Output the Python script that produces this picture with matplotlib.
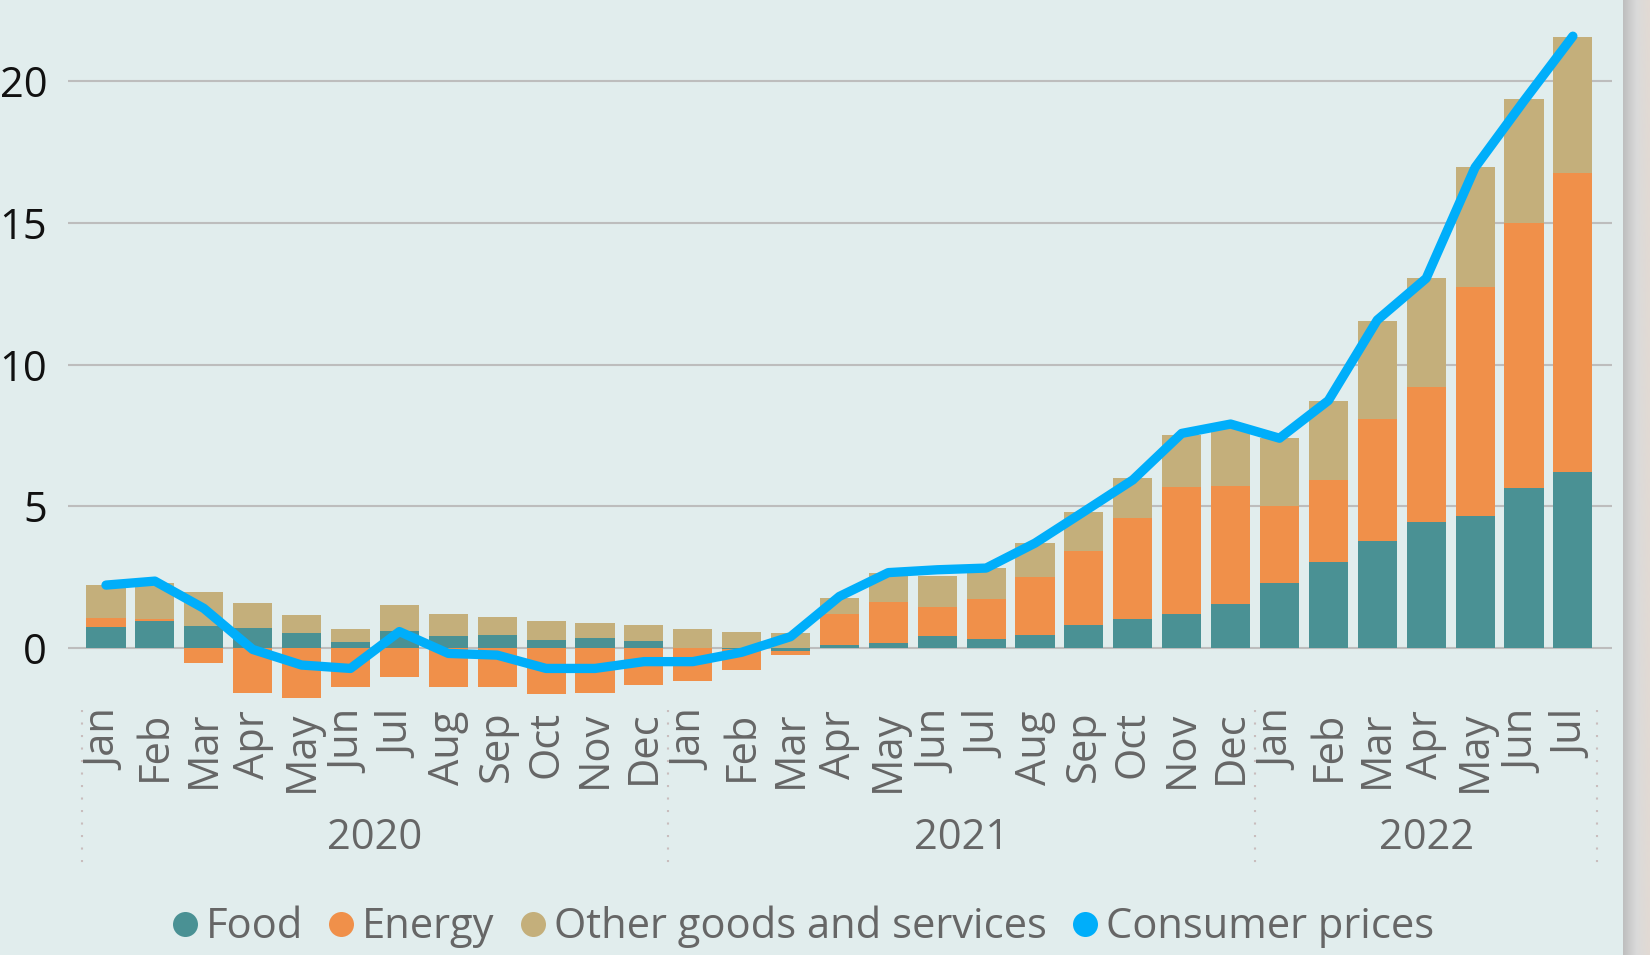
import matplotlib
matplotlib.use("Agg")
import matplotlib.pyplot as plt
import numpy as np
from matplotlib.lines import Line2D

plt.rcParams['font.family'] = ['Open Sans', 'DejaVu Sans']

months = ["Jan", "Feb", "Mar", "Apr", "May", "Jun", "Jul", "Aug", "Sep", "Oct", "Nov", "Dec",
          "Jan", "Feb", "Mar", "Apr", "May", "Jun", "Jul", "Aug", "Sep", "Oct", "Nov", "Dec",
          "Jan", "Feb", "Mar", "Apr", "May", "Jun", "Jul"]
years = ["2020", "2021", "2022"]
year_counts = [12, 12, 7]

food = [0.75, 0.96, 0.79, 0.72, 0.54, 0.22, 0.61, 0.43, 0.47, 0.27, 0.36, 0.26,
        0.00, -0.05, -0.11, 0.12, 0.19, 0.43, 0.31, 0.47, 0.82, 1.01, 1.21, 1.57,
        2.28, 3.02, 3.76, 4.46, 4.67, 5.66, 6.22]
energy = [0.32, 0.06, -0.52, -1.57, -1.78, -1.36, -1.01, -1.38, -1.38, -1.61, -1.57, -1.31,
          -1.15, -0.72, -0.12, 1.09, 1.45, 1.03, 1.43, 2.02, 2.61, 3.59, 4.47, 4.15,
          2.72, 2.90, 4.33, 4.73, 8.08, 9.32, 10.53]
other = [1.16, 1.28, 1.17, 0.88, 0.63, 0.46, 0.90, 0.78, 0.63, 0.67, 0.53, 0.56,
         0.68, 0.58, 0.53, 0.54, 0.99, 1.09, 1.07, 1.23, 1.37, 1.41, 1.84, 2.13,
         2.42, 2.81, 3.46, 3.85, 4.20, 4.37, 4.79]
cpi = [2.22, 2.36, 1.40, -0.05, -0.60, -0.72, 0.58, -0.19, -0.25, -0.72, -0.72, -0.48,
       -0.48, -0.15, 0.40, 1.82, 2.66, 2.76, 2.82, 3.70, 4.81, 5.93, 7.57, 7.90,
       7.40, 8.73, 11.57, 13.04, 16.95, 19.30, 21.58]

series = [("Food", food, "#4A9194"),
          ("Energy", energy, "#F0904A"),
          ("Other goods and services", other, "#C4AF7B")]
line_color = "#00AEFA"
bg = "#E1EDED"
grid_c = "#BDBDBD"
text_gray = "#666666"

W, H = 1650, 955
fig = plt.figure(figsize=(W / 100, H / 100), dpi=100, facecolor=bg)

ax_left, ax_right = 68, 1612
ax_top, ax_bot = 1.6, 710.4
ax = fig.add_axes([ax_left / W, (H - ax_bot) / H, (ax_right - ax_left) / W, (ax_bot - ax_top) / H])
ax.set_facecolor(bg)

x = np.arange(len(months))
pos = np.zeros(len(x))
neg = np.zeros(len(x))
for name, vals, col in series:
    v = np.array(vals)
    bottom = np.where(v >= 0, pos, neg)
    ax.bar(x, v, bottom=bottom, width=0.8, color=col, zorder=2, linewidth=0)
    pos = np.where(v >= 0, pos + v, pos)
    neg = np.where(v < 0, neg + v, neg)

ax.plot(x, cpi, color=line_color, lw=6.7, solid_capstyle='round', solid_joinstyle='round', zorder=3)

ax.set_xlim(-0.777, 30.80)
ax.set_ylim(-2.2, 22.8)
ax.set_yticks([0, 5, 10, 15, 20])
for yv in [0, 5, 10, 15, 20]:
    ax.axhline(yv, color=grid_c, lw=1.5, zorder=1)

for s in ax.spines.values():
    s.set_visible(False)
ax.tick_params(axis='y', length=0, pad=15, labelsize=30, labelcolor="#111111")
ax.set_xticks(x)
ax.set_xticklabels(months, rotation=90, fontsize=30, color=text_gray)
ax.tick_params(axis='x', length=0, pad=0)

# year grouping
xt = ax.get_xaxis_transform()
start = 0
bounds = [-0.5]
for yr, n in zip(years, year_counts):
    center = start + (n - 1) / 2
    ax.text(center, -0.180, yr, transform=xt, ha='center', va='center', fontsize=30, color=text_gray)
    start += n
    bounds.append(start - 0.5)
for b in bounds:
    ax.plot([b, b], [0.0, -0.221], transform=xt, clip_on=False, color="#C9BDBD",
            lw=1.5, linestyle=(0, (1, 5)))

# legend
handles = [Line2D([], [], marker='o', linestyle='none', markersize=18, color=c, markeredgewidth=0)
           for _, _, c in series]
handles.append(Line2D([], [], marker='o', linestyle='none', markersize=18, color=line_color, markeredgewidth=0))
labels = [n for n, _, _ in series] + ["Consumer prices"]
fig.legend(handles, labels, loc='center', bbox_to_anchor=(803 / W, 1 - 927 / H), ncol=4,
           frameon=False, fontsize=30, labelcolor=text_gray, handlelength=0.6,
           handletextpad=0.2, columnspacing=0.62, borderpad=0)

# right-hand grey strip
sax = fig.add_axes([1623 / W, 0, (W - 1623) / W, 1])
grad = np.linspace(0, 1, 50).reshape(1, -1)
sax.imshow(grad, aspect='auto', cmap=matplotlib.colors.LinearSegmentedColormap.from_list(
    "g", ["#BEBEBE", "#DADADA", "#E2DAD4"]), extent=[0, 1, 0, 1])
sax.axis('off')

fig.savefig("out.png", dpi=100, facecolor=bg)
